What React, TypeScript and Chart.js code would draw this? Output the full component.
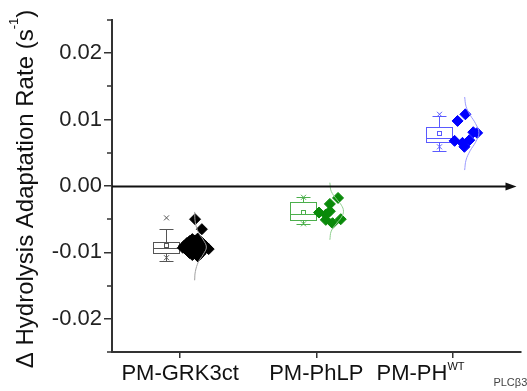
import React, { useEffect, useRef } from 'react';
import { Chart, registerables } from 'chart.js';

Chart.register(...registerables);

const FONT = "'Liberation Sans', Arial, Helvetica, sans-serif";

// categories and ticks
const categories = ['PM-GRK3ct', 'PM-PhLP', 'PM-PH'];
const categorySup = ['', '', 'WT'];
const categorySub = ['', '', 'PLCβ3'];
const categoryX = [1, 2, 3];
const yMajorTicks = [-0.02, -0.01, 0, 0.01, 0.02];
const yMinorTicks = [-0.025, -0.015, -0.005, 0.005, 0.015, 0.025];

// raw data points
const grkX = [1.11, 1.16, 1.03, 1.05, 1.07, 1.09, 1.11, 1.13, 1.15, 1.17, 1.19, 1.04, 1.06, 1.08, 1.10, 1.12, 1.14, 1.16, 1.18, 1.21, 1.07, 1.09, 1.11, 1.13, 1.15, 1.12, 1.06, 1.02];
const grkY = [-0.0050, -0.0065, -0.0090, -0.0086, -0.0083, -0.0080, -0.0082, -0.0079, -0.0084, -0.0087, -0.0091, -0.0095, -0.0093, -0.0097, -0.0091, -0.0095, -0.0092, -0.0099, -0.0094, -0.0095, -0.0101, -0.0104, -0.0100, -0.0106, -0.0102, -0.0088, -0.0088, -0.0093];
const phlpX = [2.10, 2.16, 2.02, 2.07, 2.10, 2.07, 2.12, 2.18];
const phlpY = [-0.0027, -0.0018, -0.0040, -0.0043, -0.0038, -0.0051, -0.0056, -0.0050];
const phX = [3.095, 3.038, 3.153, 3.182, 3.124, 3.016, 3.074, 3.088];
const phY = [0.0108, 0.0098, 0.0081, 0.0080, 0.0069, 0.0068, 0.0065, 0.0059];

// box statistics (per category)
const boxLow = [-0.0113, -0.0057, 0.0053];
const boxQ1 = [-0.0101, -0.0051, 0.0066];
const boxMedian = [-0.0093, -0.0042, 0.0072];
const boxQ3 = [-0.0084, -0.0024, 0.0089];
const boxHigh = [-0.0065, -0.0017, 0.0105];
const boxMean = [-0.0089, -0.0039, 0.0080];
const dataMin = [-0.0108, -0.0057, 0.0059];
const dataMax = [-0.0048, -0.0017, 0.0108];

// distribution curves
const grkCurveX = [1.107, 1.112, 1.135, 1.170, 1.193, 1.170, 1.135, 1.112, 1.107];
const grkCurveY = [-0.0039, -0.0055, -0.0070, -0.0081, -0.0092, -0.0103, -0.0114, -0.0129, -0.0142];
const phlpCurveX = [2.10, 2.11, 2.15, 2.185, 2.20, 2.185, 2.15, 2.11, 2.10];
const phlpCurveY = [0.0005, -0.0008, -0.0020, -0.0029, -0.0038, -0.0047, -0.0056, -0.0068, -0.0081];
const phCurveX = [3.09, 3.10, 3.13, 3.17, 3.195, 3.17, 3.13, 3.10, 3.09];
const phCurveY = [0.0134, 0.0120, 0.0107, 0.0094, 0.0080, 0.0066, 0.0053, 0.0039, 0.0024];

const pointColors = ['#000000', '#0a8a0a', '#0000ff'];
const boxColors = ['#555555', '#4caf4c', '#5a5aff'];
const curveColors = ['#a0a0a0', '#8fcf8f', '#9a9aff'];

const pts = (xs: number[], ys: number[]) => xs.map((x, i) => ({ x, y: ys[i] }));

const boxPlugin = {
  id: 'boxes',
  beforeDatasetsDraw(chart: any) {
    const { ctx } = chart;
    const xs = chart.scales.x;
    const ys = chart.scales.y;
    categoryX.forEach((c, i) => {
      const cx = Math.round(xs.getPixelForValue(c - 0.1)) + 0.5;
      const half = Math.round(xs.getPixelForValue(c + 0.095) - xs.getPixelForValue(c));
      const cap = Math.round(xs.getPixelForValue(c + 0.05) - xs.getPixelForValue(c));
      const py = (v: number) => Math.round(ys.getPixelForValue(v)) + 0.5;
      const yq1 = py(boxQ1[i]);
      const yq3 = py(boxQ3[i]);
      const ym = py(boxMedian[i]);
      const yl = py(boxLow[i]);
      const yh = py(boxHigh[i]);
      ctx.save();
      ctx.strokeStyle = boxColors[i];
      ctx.lineWidth = 1;
      ctx.strokeRect(cx - half, yq3, 2 * half, yq1 - yq3);
      ctx.beginPath();
      ctx.moveTo(cx - half, ym); ctx.lineTo(cx + half, ym);
      ctx.moveTo(cx, yq3); ctx.lineTo(cx, yh);
      ctx.moveTo(cx, yq1); ctx.lineTo(cx, yl);
      ctx.moveTo(cx - cap, yh); ctx.lineTo(cx + cap, yh);
      ctx.moveTo(cx - cap, yl); ctx.lineTo(cx + cap, yl);
      ctx.stroke();
      const ymean = py(boxMean[i]);
      ctx.strokeRect(cx - 2, ymean - 2, 4, 4);
      [dataMin[i], dataMax[i]].forEach((v) => {
        const yy = ys.getPixelForValue(v);
        ctx.beginPath();
        ctx.moveTo(cx - 2.5, yy - 2.5); ctx.lineTo(cx + 2.5, yy + 2.5);
        ctx.moveTo(cx + 2.5, yy - 2.5); ctx.lineTo(cx - 2.5, yy + 2.5);
        ctx.stroke();
      });
      ctx.restore();
    });
  },
};

const decorPlugin = {
  id: 'decor',
  afterDraw(chart: any) {
    const { ctx, chartArea } = chart;
    const xs = chart.scales.x;
    const ys = chart.scales.y;
    ctx.save();
    ctx.strokeStyle = '#333';
    ctx.lineWidth = 1.5;
    ctx.beginPath();
    yMinorTicks.forEach((v) => {
      const yy = Math.round(ys.getPixelForValue(v));
      ctx.moveTo(chartArea.left - 5, yy);
      ctx.lineTo(chartArea.left, yy);
    });
    ctx.stroke();
    const y0 = Math.round(ys.getPixelForValue(0)) + 0.5;
    const tip = chartArea.right - 4;
    ctx.strokeStyle = '#111';
    ctx.fillStyle = '#111';
    ctx.lineWidth = 2;
    ctx.beginPath();
    ctx.moveTo(chartArea.left, y0);
    ctx.lineTo(tip - 6, y0);
    ctx.stroke();
    ctx.beginPath();
    ctx.moveTo(tip, y0);
    ctx.lineTo(tip - 11, y0 - 4);
    ctx.lineTo(tip - 11, y0 + 4);
    ctx.closePath();
    ctx.fill();
    ctx.fillStyle = '#111';
    ctx.textBaseline = 'alphabetic';
    categoryX.forEach((c, i) => {
      const px = xs.getPixelForValue(c);
      const base = chartArea.bottom + 28;
      ctx.font = `22px ${FONT}`;
      if (!categorySup[i]) {
        ctx.textAlign = 'center';
        ctx.fillText(categories[i], px, base);
      } else {
        ctx.textAlign = 'right';
        ctx.fillText(categories[i], px - 5, base);
        ctx.textAlign = 'left';
        ctx.font = `11px ${FONT}`;
        ctx.fillText(categorySup[i], px - 5, base - 10);
        ctx.font = `11px ${FONT}`;
        ctx.fillStyle = '#444';
        ctx.fillText(categorySub[i], px + 41, base + 6);
        ctx.fillStyle = '#111';
      }
    });
    const main = 'Δ Hydrolysis Adaptation Rate (s';
    const sup = '-1';
    const close = ')';
    ctx.font = `24px ${FONT}`;
    const w1 = ctx.measureText(main).width;
    const w3 = ctx.measureText(close).width;
    ctx.font = `13px ${FONT}`;
    const w2 = ctx.measureText(sup).width;
    const total = w1 + w2 + w3;
    ctx.translate(33, 189);
    ctx.rotate(-Math.PI / 2);
    ctx.textAlign = 'left';
    ctx.fillStyle = '#111';
    let u = -total / 2;
    ctx.font = `24px ${FONT}`;
    ctx.fillText(main, u, 0);
    u += w1;
    ctx.font = `13px ${FONT}`;
    ctx.fillText(sup, u, -15);
    u += w2;
    ctx.font = `24px ${FONT}`;
    ctx.fillText(close, u, 0);
    ctx.restore();
  },
};

export default function App() {
  const ref = useRef<HTMLCanvasElement>(null);
  useEffect(() => {
    const canvas = ref.current!;
    const curve = (xsArr: number[], ysArr: number[], color: string) => ({
      type: 'line' as const,
      data: pts(xsArr, ysArr),
      borderColor: color,
      borderWidth: 1,
      pointRadius: 0,
      tension: 0.4,
      fill: false,
      showLine: true,
    });
    const scatter = (xsArr: number[], ysArr: number[], color: string) => ({
      type: 'scatter' as const,
      data: pts(xsArr, ysArr),
      pointStyle: 'rectRot',
      pointRadius: 5.5,
      backgroundColor: color,
      borderColor: color,
      borderWidth: 1,
    });
    const chart = new Chart(canvas, {
      type: 'scatter',
      data: {
        datasets: [
          curve(grkCurveX, grkCurveY, curveColors[0]),
          curve(phlpCurveX, phlpCurveY, curveColors[1]),
          curve(phCurveX, phCurveY, curveColors[2]),
          scatter(grkX, grkY, pointColors[0]),
          scatter(phlpX, phlpY, pointColors[1]),
          scatter(phX, phY, pointColors[2]),
        ] as any,
      },
      options: {
        animation: false,
        responsive: false,
        devicePixelRatio: 1,
        layout: { padding: { top: 20, left: 0, right: 0, bottom: 0 } },
        plugins: { legend: { display: false }, tooltip: { enabled: false } },
        scales: {
          x: {
            type: 'linear',
            min: 0.5,
            max: 3.5,
            afterBuildTicks: (s: any) => { s.ticks = categoryX.map((v) => ({ value: v })); },
            afterFit: (s: any) => { s.height = 39; },
            ticks: { callback: () => '', font: { family: FONT, size: 22 } },
            grid: { drawOnChartArea: false, tickLength: 6, color: '#333', lineWidth: 1.5 },
            border: { color: '#333', width: 2 },
          },
          y: {
            type: 'linear',
            min: -0.025,
            max: 0.025,
            afterBuildTicks: (s: any) => { s.ticks = yMajorTicks.map((v) => ({ value: v })); },
            afterFit: (s: any) => { s.width = 112; },
            ticks: {
              callback: (v: any) => Number(v).toFixed(2),
              font: { family: FONT, size: 22 },
              color: '#222',
              padding: 2,
            },
            grid: { drawOnChartArea: false, tickLength: 8, color: '#333', lineWidth: 1.5 },
            border: { color: '#333', width: 2 },
          },
        },
      } as any,
      plugins: [boxPlugin, decorPlugin],
    });
    return () => chart.destroy();
  }, []);
  return (
    <div style={{ position: 'absolute', left: 0, top: 0, width: 527, height: 391, background: '#fff' }}>
      <canvas ref={ref} width={527} height={391} style={{ display: 'block', width: 527, height: 391 }} />
    </div>
  );
}
